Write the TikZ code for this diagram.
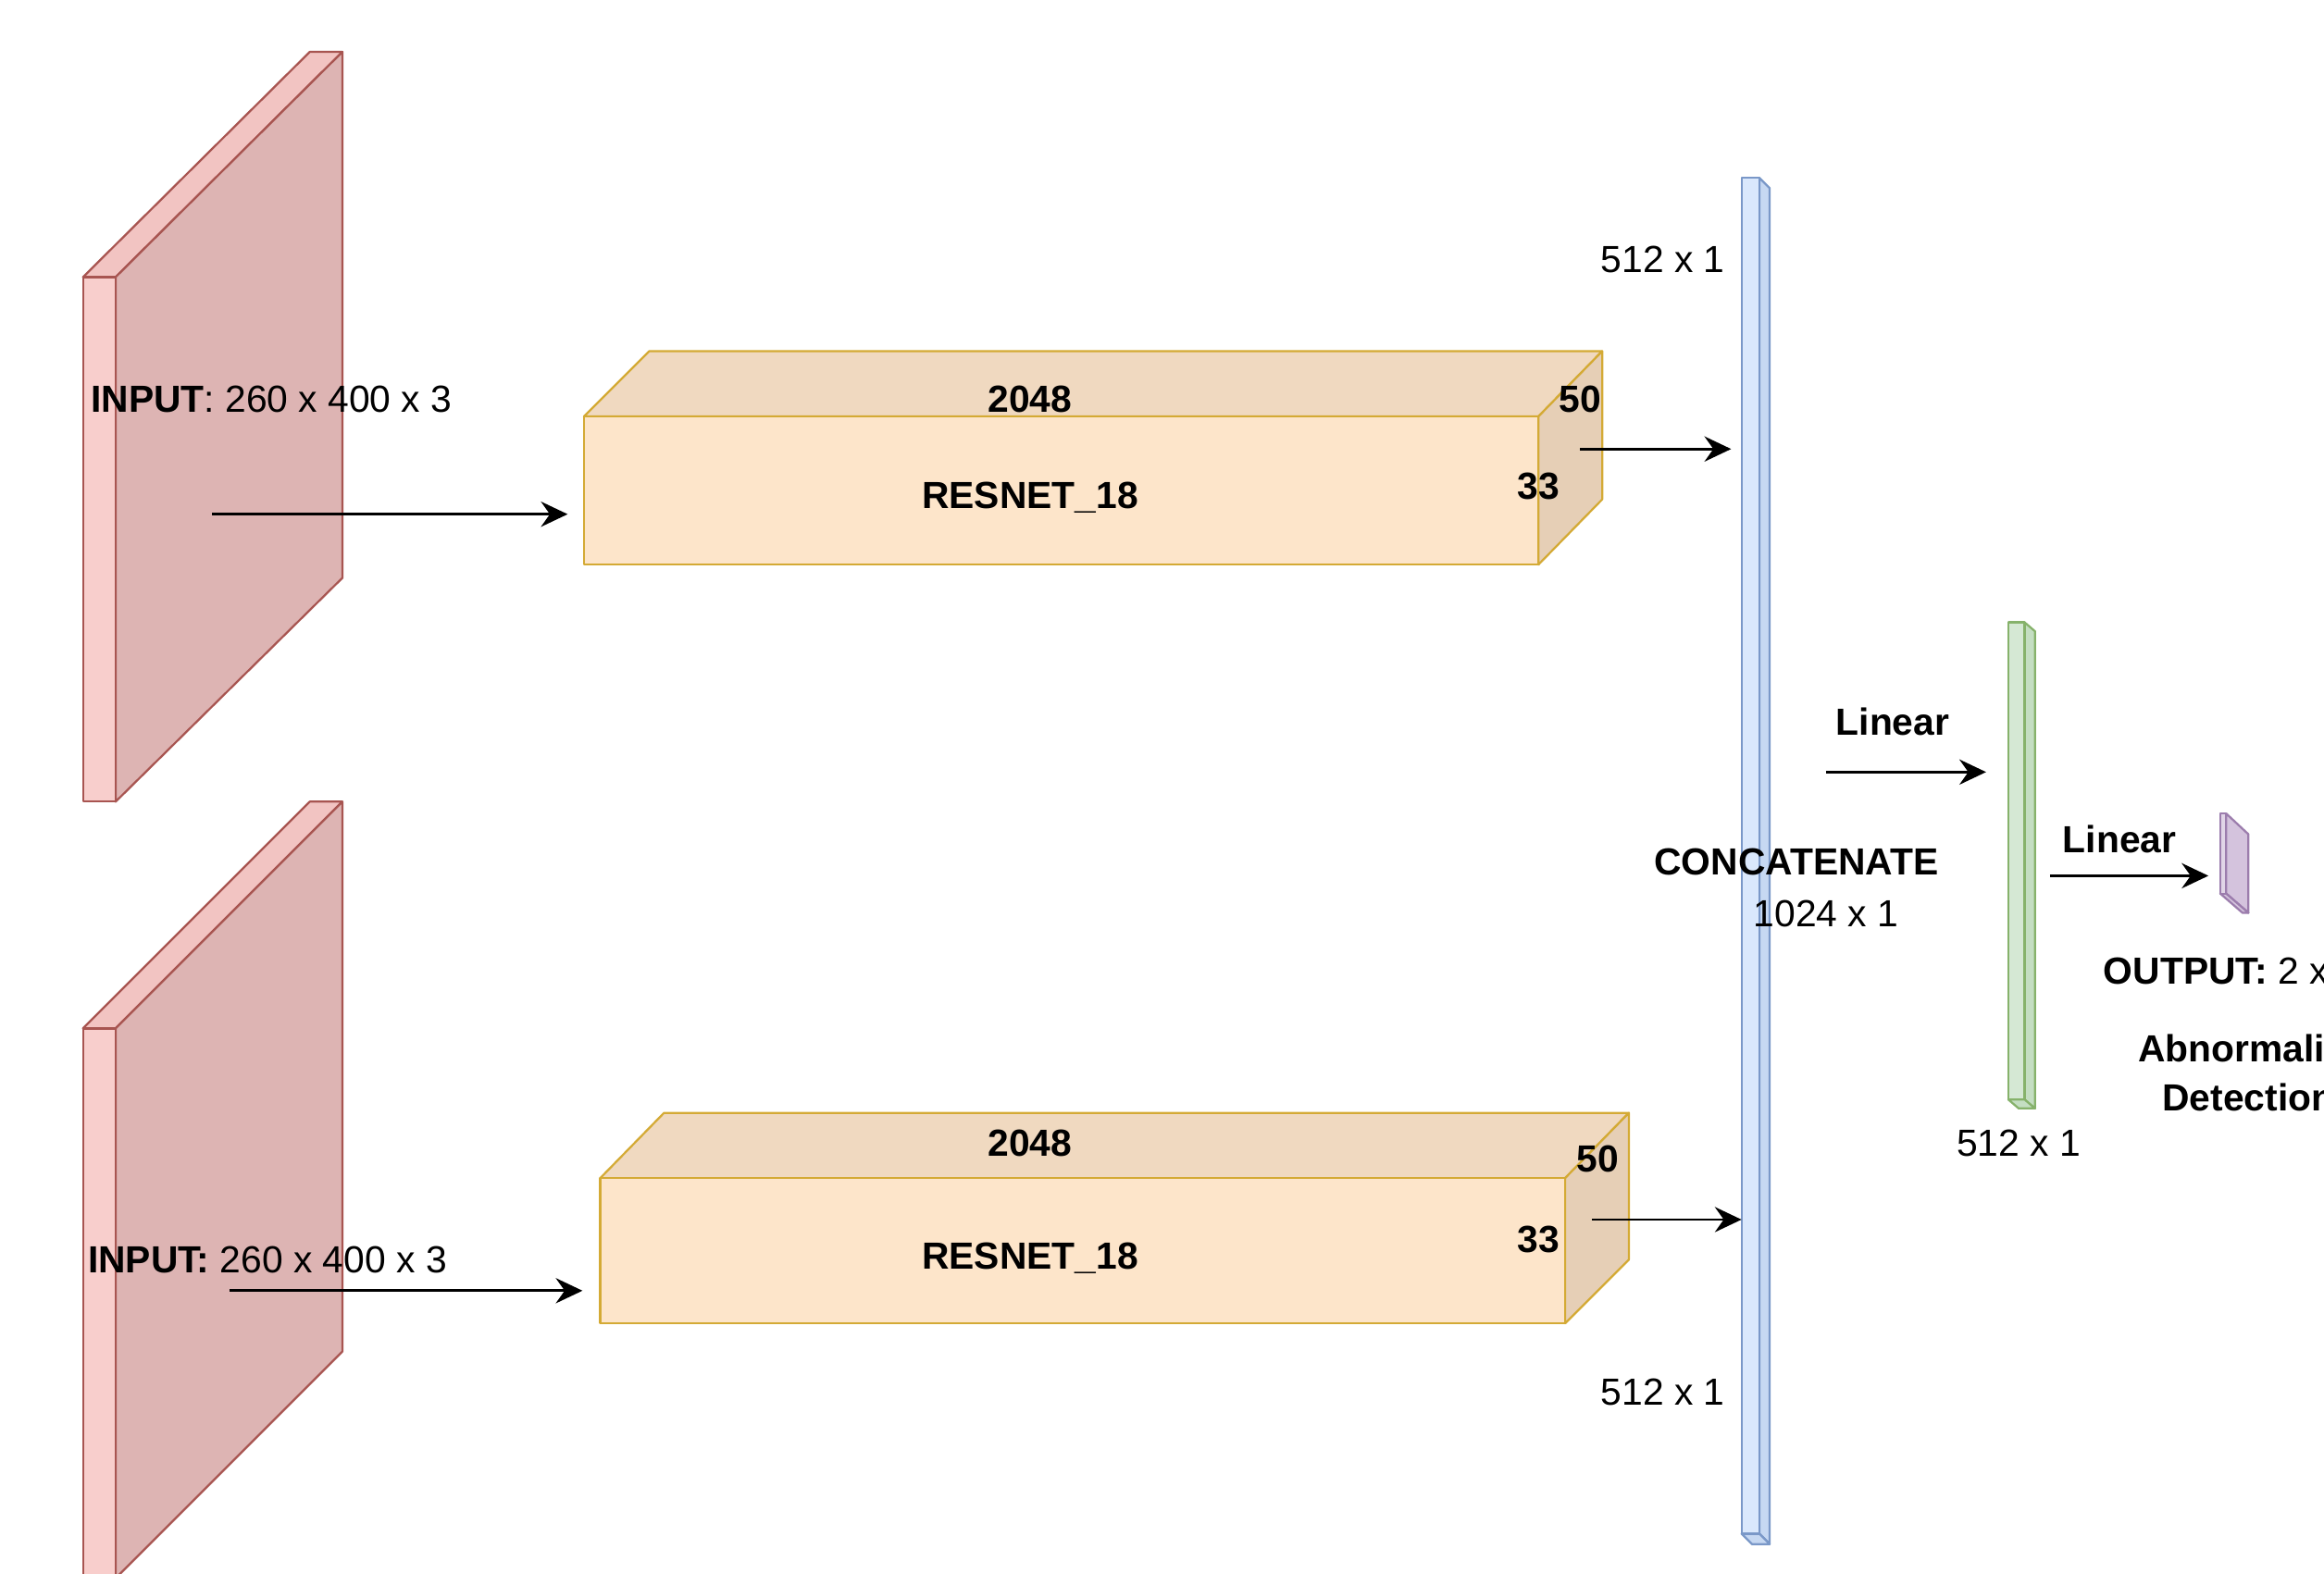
\documentclass[tikz,border=0pt]{standalone}
\usepackage{fontspec}
\setmainfont{Liberation Sans}
\usepackage{tikz}
\usetikzlibrary{arrows.meta}

\definecolor{inFront}{HTML}{F8CECC}
\definecolor{inTop}{HTML}{F2C4C2}
\definecolor{inFace}{HTML}{DDB4B3}
\definecolor{inLine}{HTML}{A85551}
\definecolor{resFront}{HTML}{FDE5CA}
\definecolor{resTop}{HTML}{F0D9C0}
\definecolor{resSide}{HTML}{E6CFB6}
\definecolor{resLine}{HTML}{D4AA35}
\definecolor{catFront}{HTML}{DAE8FC}
\definecolor{catSide}{HTML}{C6D8F2}
\definecolor{catLine}{HTML}{7A98C8}
\definecolor{fcFront}{HTML}{D5E8D4}
\definecolor{fcSide}{HTML}{C4DEC2}
\definecolor{fcLine}{HTML}{86B26B}
\definecolor{outFront}{HTML}{E1D5E7}
\definecolor{outSide}{HTML}{D4C3DD}
\definecolor{outLine}{HTML}{9C7DAD}

\begin{document}
\begin{tikzpicture}[x=0.2mm, y=-0.2mm,
    txt/.style={inner sep=0pt, text height=10.4pt, text depth=0pt, font=\fontsize{14.5}{17}\selectfont},
    boldtxt/.style={txt, font=\fontsize{14.5}{17}\selectfont\bfseries},
    arr/.style={-{Stealth[length=3.6mm, width=3.4mm, inset=1.2mm]}, line width=1pt},
    inface/.style={draw=inLine, line width=0.8pt, line join=round},
    resface/.style={draw=resLine, line width=0.8pt, line join=round},
    catface/.style={draw=catLine, line width=0.8pt, line join=round},
    fcface/.style={draw=fcLine, line width=0.8pt, line join=round},
    outface/.style={draw=outLine, line width=0.8pt, line join=round}]
    \clip (0,0) rectangle (1568,1062);

    % input images
    \draw[inface, fill=inTop] (56,187) -- (209,35) -- (231,35) -- (78,187) -- cycle;
    \draw[inface, fill=inFace] (78,187) -- (231,35) -- (231,390) -- (78,541) -- cycle;
    \draw[inface, fill=inFront] (56,187) rectangle (78,541);
    \draw[inface, fill=inTop] (56,694) -- (209,541) -- (231,541) -- (78,694) -- cycle;
    \draw[inface, fill=inFace] (78,694) -- (231,541) -- (231,912) -- (78,1065) -- cycle;
    \draw[inface, fill=inFront] (56,694) rectangle (78,1065);
    \node[txt, anchor=west] (inlbl1) at (61,269) {\textbf{INPUT}: 260 x 400 x 3};
    \node[txt, anchor=west] (inlbl2) at (59,850) {\textbf{INPUT:} 260 x 400 x 3};

    % resnet blocks
    \draw[resface, fill=resTop] (394,281) -- (438,237) -- (1081,237) -- (1038,281) -- cycle;
    \draw[resface, fill=resSide] (1038,281) -- (1081,237) -- (1081,337) -- (1038,381) -- cycle;
    \draw[resface, fill=resFront] (394,281) rectangle (1038,381);
    \node[boldtxt] (reswidth1) at (695,269) {2048};
    \node[boldtxt] (resname1) at (695,334) {RESNET\_18};
    \node[boldtxt] (resdepth1) at (1066,269) {50};
    \node[boldtxt] (resheight1) at (1038,328) {33};

    \draw[resface, fill=resTop] (405,795) -- (448,751) -- (1099,751) -- (1056,795) -- cycle;
    \draw[resface, fill=resSide] (1056,795) -- (1099,751) -- (1099,850) -- (1056,893) -- cycle;
    \draw[resface, fill=resFront] (405,795) rectangle (1056,893);
    \node[boldtxt] (reswidth2) at (695,771) {2048};
    \node[boldtxt] (resname2) at (695,847) {RESNET\_18};
    \node[boldtxt] (resdepth2) at (1078,782) {50};
    \node[boldtxt] (resheight2) at (1038,836) {33};

    % concatenated vector
    \draw[catface, fill=catSide] (1187,120) -- (1194,127) -- (1194,1042) -- (1187,1035) -- cycle;
    \draw[catface, fill=catSide] (1175,1035) -- (1187,1035) -- (1194,1042) -- (1182,1042) -- cycle;
    \draw[catface, fill=catFront] (1175,120) rectangle (1187,1035);
    \node[txt] (catsize1) at (1122,175) {512 x 1};
    \node[txt] (catsize2) at (1122,939) {512 x 1};
    \node[boldtxt] (catname) at (1212,581) {CONCATENATE};
    \node[txt] (catsize) at (1232,616) {1024 x 1};

    % hidden layer
    \draw[fcface, fill=fcSide] (1366,420) -- (1373,426) -- (1373,748) -- (1366,742) -- cycle;
    \draw[fcface, fill=fcSide] (1355,742) -- (1366,742) -- (1373,748) -- (1362,748) -- cycle;
    \draw[fcface, fill=fcFront] (1355,420) rectangle (1366,742);
    \node[txt] (fcsize) at (1362,771) {512 x 1};
    \node[boldtxt] (linlbl1) at (1277,487) {Linear};

    % output
    \draw[outface, fill=outSide] (1502,549) -- (1517,563) -- (1517,616) -- (1502,603) -- cycle;
    \draw[outface, fill=outSide] (1498,603) -- (1502,603) -- (1517,616) -- (1513,616) -- cycle;
    \draw[outface, fill=outFront] (1498,549) rectangle (1502,603);
    \node[boldtxt] (linlbl2) at (1430,566) {Linear};
    \node[txt, anchor=west] (outlbl) at (1419,655) {\textbf{OUTPUT:} 2 x 1};
    \node[inner sep=0pt, align=center, anchor=north, font=\fontsize{14.5}{18.8}\selectfont\bfseries] (outtask) at (1517,698) {Abnormality\\Detection};

    % connectors
    \coordinate (in1) at (143,347);
    \coordinate (res1in) at (383,347);
    \coordinate (res1out) at (1066,303);
    \coordinate (cat1in) at (1168,303);
    \coordinate (in2) at (155,871);
    \coordinate (res2in) at (393,871);
    \coordinate (res2out) at (1074,823);
    \coordinate (cat2in) at (1175,823);
    \coordinate (catout) at (1232,521);
    \coordinate (fcin) at (1340,521);
    \coordinate (fcout) at (1383,591);
    \coordinate (outin) at (1490,591);
    \draw[arr] (in1) -- (res1in);
    \draw[arr] (res1out) -- (cat1in);
    \draw[arr] (in2) -- (res2in);
    \draw[arr] (res2out) -- (cat2in);
    \draw[arr] (catout) -- (fcin);
    \draw[arr] (fcout) -- (outin);
\end{tikzpicture}
\end{document}
